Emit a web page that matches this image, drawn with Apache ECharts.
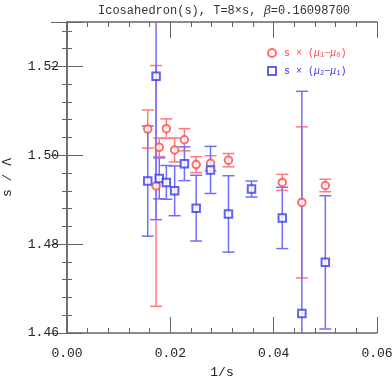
<!DOCTYPE html>
<html>
<head>
<meta charset="utf-8">
<script src="https://cdn.jsdelivr.net/npm/echarts@6/dist/echarts.min.js"></script>
<style>
  html, body { margin: 0; padding: 0; background: #fff; }
  #main { width: 392px; height: 380px; }
</style>
</head>
<body>
<div id="main"></div>
<script>
// lattice sizes s (x axis is 1/s)
var redSizes = [64, 58, 56, 52, 48, 44, 40, 36, 32, 24, 22, 20];
var redVals  = [1.5059, 1.4931, 1.5018, 1.5060, 1.5012, 1.5035, 1.4979, 1.4982, 1.4989, 1.4939, 1.4894, 1.4932];
var redErrs  = [0.0043, 0.0271, 0.0021, 0.0022, 0.0027, 0.0025, 0.0018, 0.0017, 0.0015, 0.0018, 0.0170, 0.0014];

var blueSizes = [64, 58, 56, 52, 48, 44, 40, 36, 32, 28, 24, 22, 20];
var blueVals  = [1.4942, 1.5178, 1.4948, 1.4939, 1.4920, 1.4981, 1.4881, 1.4967, 1.4868, 1.4924, 1.4859, 1.4644, 1.4759];
var blueErrs  = [0.0124, 0.0323, 0.0046, 0.0038, 0.0056, 0.0038, 0.0074, 0.0053, 0.0086, 0.0018, 0.0069, 0.0500, 0.0150];

var xTicks = [0, 0.06, 0.02];      // min, max, step
var yTicks = [1.46, 1.53, 0.02];

var RED = '#ff4a4a', RED_BAR = '#ff7a7a';
var BLUE = '#3a3af0', BLUE_BAR = '#6f6ff8';
var FONT = 'Liberation Mono';

function points(sizes, vals) {
  return sizes.map(function (s, i) { return [1 / s, vals[i]]; });
}
function bars(sizes, vals, errs) {
  return sizes.map(function (s, i) { return [1 / s, vals[i] - errs[i], vals[i] + errs[i]]; });
}

function errBar(color) {
  return function (params, api) {
    var x = api.value(0);
    var lo = api.coord([x, api.value(1)]);
    var hi = api.coord([x, api.value(2)]);
    var hw = 6;
    var st = { stroke: color, lineWidth: 1.5 };
    return {
      type: 'group',
      children: [
        { type: 'line', shape: { x1: lo[0], y1: lo[1], x2: hi[0], y2: hi[1] }, style: st },
        { type: 'line', shape: { x1: lo[0] - hw, y1: lo[1], x2: lo[0] + hw, y2: lo[1] }, style: st },
        { type: 'line', shape: { x1: hi[0] - hw, y1: hi[1], x2: hi[0] + hw, y2: hi[1] }, style: st }
      ]
    };
  };
}

function legendRich(color) {
  return {
    t: { fontFamily: FONT, fontSize: 10, color: color },
    m: { fontFamily: FONT, fontSize: 10, fontStyle: 'italic', color: color },
    d: { fontFamily: FONT, fontSize: 7, color: color, padding: [5, 0, 0, 0] }
  };
}

var axisLine = { show: true, lineStyle: { color: '#666', width: 1.5 } };
var tick = { show: true, inside: true, length: 16, lineStyle: { color: '#666', width: 1 } };
var minor = { show: true, splitNumber: 5, length: 5, lineStyle: { color: '#666', width: 1 } };

function xAxis(pos, labels) {
  return {
    type: 'value', position: pos, min: xTicks[0], max: xTicks[1], interval: xTicks[2],
    axisLine: axisLine, axisTick: tick, minorTick: minor, splitLine: { show: false },
    axisLabel: { show: labels, fontFamily: FONT, fontSize: 13, color: '#222', margin: 14,
      formatter: function (v) { return v.toFixed(2); } },
    name: labels ? '1/s' : '', nameLocation: 'middle', nameGap: 33,
    nameTextStyle: { fontFamily: FONT, fontSize: 13, color: '#222' }
  };
}
function yAxis(pos, labels) {
  return {
    type: 'value', position: pos, min: yTicks[0], max: yTicks[1], interval: yTicks[2],
    axisLine: axisLine, axisTick: tick, minorTick: minor, splitLine: { show: false },
    axisLabel: { show: labels, fontFamily: FONT, fontSize: 13, color: '#222', margin: 8,
      showMaxLabel: false, formatter: function (v) { return v.toFixed(2); } },
    name: labels ? 's / Λ' : '', nameLocation: 'middle', nameGap: 53, nameRotate: 90,
    nameTextStyle: { fontFamily: FONT, fontSize: 13, color: '#222' }
  };
}

var chart = echarts.init(document.getElementById('main'));
chart.setOption({
  animation: false,
  title: {
    text: '{n|Icosahedron(s), T=8×s, }{b|β}{n|=0.16098700}',
    left: 93, top: 0,
    textStyle: { rich: {
      n: { fontFamily: FONT, fontSize: 12, fontWeight: 'normal', color: '#333' },
      b: { fontFamily: FONT, fontSize: 12, fontWeight: 'normal', fontStyle: 'italic', color: '#333' }
    } }
  },
  grid: { left: 67, right: 15, top: 22, bottom: 47, outerBoundsMode: 'none' },
  legend: [
    { data: ['red'], left: 262, top: 43, itemWidth: 8, itemHeight: 8,
      textStyle: { padding: [0, 0, 0, 3], rich: legendRich(RED) },
      formatter: function () { return '{t|s × (}{m|μ}{d|1}{t|−}{m|μ}{d|0}{t|)}'; } },
    { data: ['blue'], left: 262, top: 61, itemWidth: 8, itemHeight: 8,
      textStyle: { padding: [0, 0, 0, 3], rich: legendRich(BLUE) },
      formatter: function () { return '{t|s × (}{m|μ}{d|2}{t|−}{m|μ}{d|1}{t|)}'; } }
  ],
  xAxis: [xAxis('bottom', true), xAxis('top', false)],
  yAxis: [yAxis('left', true), yAxis('right', false)],
  series: [
    { type: 'custom', name: 'redErr', clip: true, renderItem: errBar(RED_BAR),
      data: bars(redSizes, redVals, redErrs), z: 2 },
    { type: 'custom', name: 'blueErr', clip: true, renderItem: errBar(BLUE_BAR),
      data: bars(blueSizes, blueVals, blueErrs), z: 2 },
    { type: 'scatter', name: 'red', symbol: 'emptyCircle', symbolSize: 7.5,
      itemStyle: { color: RED, borderWidth: 1 }, data: points(redSizes, redVals), z: 3 },
    { type: 'scatter', name: 'blue', symbol: 'emptyRect', symbolSize: 7.5,
      itemStyle: { color: BLUE, borderWidth: 1 }, data: points(blueSizes, blueVals), z: 3 }
  ]
});
</script>
</body>
</html>
